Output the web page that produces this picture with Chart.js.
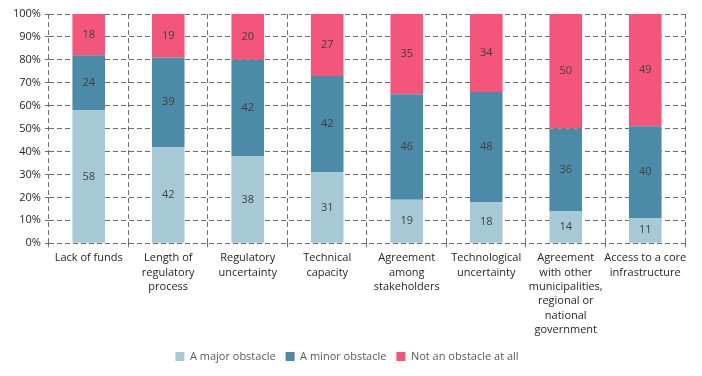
<!DOCTYPE html>
<html>
<head>
<meta charset="utf-8">
<script src="https://cdn.jsdelivr.net/npm/chart.js@4"></script>
<style>
  html, body { margin: 0; padding: 0; background: #fff; }
  #wrap { width: 702px; height: 376px; }
</style>
</head>
<body>
<div id="wrap"><canvas id="obstacleChart" width="702" height="376"></canvas></div>
<script>
const categories = [
  "Lack of funds",
  ["Length of", "regulatory", "process"],
  ["Regulatory", "uncertainty"],
  ["Technical", "capacity"],
  ["Agreement", "among", "stakeholders"],
  ["Technological", "uncertainty"],
  ["Agreement", "with other", "municipalities,", "regional or", "national", "government"],
  ["Access to a core", "infrastructure"],
];
const majorObstacle = [58, 42, 38, 31, 19, 18, 14, 11];
const minorObstacle = [24, 39, 42, 42, 46, 48, 36, 40];
const notObstacle = [18, 19, 20, 27, 35, 34, 50, 49];
const seriesNames = ["A major obstacle", "A minor obstacle", "Not an obstacle at all"];

// draw the value in the middle of every bar segment
const barValues = {
  id: "barValues",
  afterDatasetsDraw(chart) {
    const ctx = chart.ctx;
    ctx.save();
    ctx.font = "11px 'Open Sans'";
    ctx.fillStyle = "#404040";
    ctx.textAlign = "center";
    ctx.textBaseline = "middle";
    chart.data.datasets.forEach((ds, i) => {
      chart.getDatasetMeta(i).data.forEach((bar, j) => {
        const mid = (bar.y + bar.base) / 2;
        ctx.fillText(ds.data[j], bar.x, mid);
      });
    });
    ctx.restore();
  },
};

const ctx = document.getElementById("obstacleChart").getContext("2d");
const chart = new Chart(ctx, {
  type: "bar",
  data: {
    labels: categories,
    datasets: [
      { label: seriesNames[0], data: majorObstacle, backgroundColor: "#a6c9d5" },
      { label: seriesNames[1], data: minorObstacle, backgroundColor: "#4b8ba7" },
      { label: seriesNames[2], data: notObstacle, backgroundColor: "#f4557b" },
    ],
  },
  options: {
    responsive: false,
    animation: false,
    layout: { padding: { top: 14, right: 17, left: 9, bottom: 4 } },
    datasets: {
      bar: { categoryPercentage: 1, barPercentage: 0.41 },
    },
    scales: {
      x: {
        stacked: true,
        grid: { color: "#6e6e6e", lineWidth: 1, tickLength: 4 },
        border: { display: false, dash: [5, 3] },
        ticks: {
          color: "#262626",
          font: { family: "'Open Sans'", size: 11, lineHeight: 1.3 },
          maxRotation: 0,
          autoSkip: false,
          padding: 4,
        },
      },
      y: {
        stacked: true,
        min: 0,
        max: 100,
        grid: { color: "#6e6e6e", lineWidth: 1, tickLength: 4 },
        border: { display: false, dash: [5, 3] },
        ticks: {
          stepSize: 10,
          color: "#262626",
          font: { family: "'Open Sans'", size: 11 },
          padding: 4,
          callback: (v) => v + "%",
        },
      },
    },
    plugins: {
      tooltip: { enabled: false },
      legend: {
        position: "bottom",
        labels: {
          boxWidth: 9,
          boxHeight: 9,
          color: "#595959",
          font: { family: "'Open Sans'", size: 11 },
          padding: 10,
        },
      },
    },
  },
  plugins: [barValues],
});
</script>
</body>
</html>
